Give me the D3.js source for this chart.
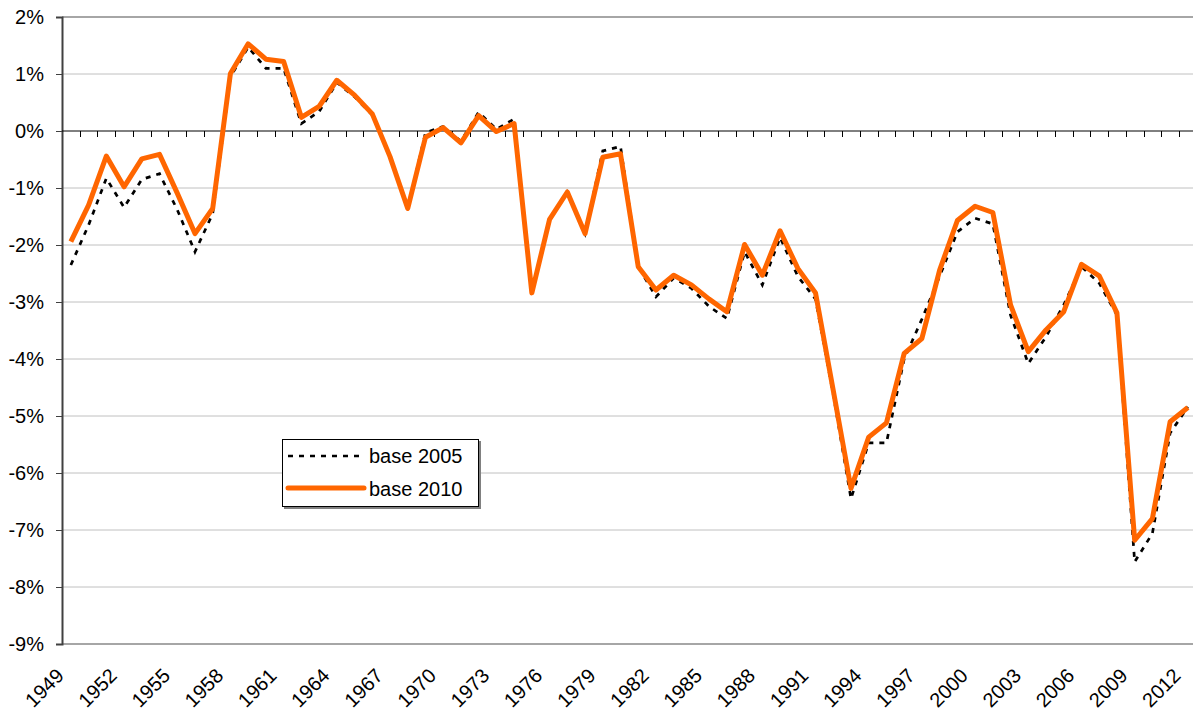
<!DOCTYPE html>
<html>
<head>
<meta charset="utf-8">
<script src="https://cdn.jsdelivr.net/npm/d3@7"></script>
<style>
  html, body { margin: 0; padding: 0; background: #fff; }
  svg { display: block; font-family: "Liberation Sans", Arial, sans-serif; }
</style>
</head>
<body>
<div id="chart"></div>
<script>
// Categories (years)
const years = [1949, 1950, 1951, 1952, 1953, 1954, 1955, 1956, 1957, 1958,
  1959, 1960, 1961, 1962, 1963, 1964, 1965, 1966, 1967, 1968,
  1969, 1970, 1971, 1972, 1973, 1974, 1975, 1976, 1977, 1978,
  1979, 1980, 1981, 1982, 1983, 1984, 1985, 1986, 1987, 1988,
  1989, 1990, 1991, 1992, 1993, 1994, 1995, 1996, 1997, 1998,
  1999, 2000, 2001, 2002, 2003, 2004, 2005, 2006, 2007, 2008,
  2009, 2010, 2011, 2012];

// base 2005 (dashed black), % values
const base2005 = [-2.35, -1.65, -0.83, -1.34, -0.85, -0.75, -1.38, -2.12, -1.45, 0.95,
  1.47, 1.10, 1.10, 0.13, 0.34, 0.85, 0.60, 0.28, -0.45, -1.36,
  -0.03, 0.08, -0.18, 0.33, 0.03, 0.21, -2.84, -1.55, -1.07, -1.80,
  -0.35, -0.27, -2.38, -2.91, -2.58, -2.76, -3.08, -3.29, -2.12, -2.70,
  -1.87, -2.55, -2.95, -4.62, -6.45, -5.47, -5.47, -4.00, -3.30, -2.55,
  -1.77, -1.53, -1.63, -3.23, -4.08, -3.61, -3.05, -2.38, -2.67, -3.23,
  -7.56, -7.06, -5.30, -4.84];

// base 2010 (solid orange), % values
const base2010 = [-1.94, -1.30, -0.44, -0.98, -0.49, -0.41, -1.09, -1.80, -1.36, 1.01,
  1.53, 1.26, 1.22, 0.24, 0.43, 0.89, 0.63, 0.30, -0.45, -1.36,
  -0.11, 0.06, -0.21, 0.27, -0.01, 0.13, -2.84, -1.55, -1.07, -1.80,
  -0.46, -0.40, -2.38, -2.79, -2.53, -2.70, -2.95, -3.17, -1.99, -2.53,
  -1.75, -2.41, -2.84, -4.55, -6.27, -5.37, -5.12, -3.90, -3.64, -2.44,
  -1.57, -1.32, -1.43, -3.05, -3.87, -3.49, -3.17, -2.34, -2.54, -3.19,
  -7.18, -6.80, -5.10, -4.85];

// Axis tick values
const yTicks = [2, 1, 0, -1, -2, -3, -4, -5, -6, -7, -8, -9];
const xLabelYears = [1949, 1952, 1955, 1958, 1961, 1964, 1967, 1970, 1973, 1976,
  1979, 1982, 1985, 1988, 1991, 1994, 1997, 2000, 2003, 2006, 2009, 2012];

const seriesNames = ['base 2005', 'base 2010'];

const W = 1193, H = 714;
const margin = { top: 17, left: 62 };
const bandW = 17.73;
const plotW = years.length * bandW;
const plotH = 627;

const svg = d3.select('#chart')
  .append('svg')
  .attr('width', W)
  .attr('height', H);

svg.append('rect').attr('width', W).attr('height', H).attr('fill', '#fff');

const g = svg.append('g')
  .attr('transform', `translate(${margin.left},${margin.top})`);

// Scales
const x = d3.scaleBand()
  .domain(years)
  .range([0, plotW])
  .padding(0);

const y = d3.scaleLinear()
  .domain([-9, 2])
  .range([plotH, 0]);

const cx = d => x(d) + x.bandwidth() / 2;

// Gridlines
g.append('g')
  .selectAll('line')
  .data(yTicks.filter(v => v !== 0 && v !== 2 && v !== -9))
  .join('line')
  .attr('x1', 0)
  .attr('x2', plotW)
  .attr('y1', d => y(d))
  .attr('y2', d => y(d))
  .attr('stroke', '#c0c0c0')
  .attr('stroke-width', 1);

// Top & bottom border
[2, -9].forEach(v => {
  g.append('line')
    .attr('x1', 0).attr('x2', plotW)
    .attr('y1', y(v)).attr('y2', y(v))
    .attr('stroke', '#a6a6a6')
    .attr('stroke-width', 2);
});

// Y axis
const yAxis = d3.axisLeft(y)
  .tickValues(yTicks)
  .tickSize(6)
  .tickPadding(12)
  .tickFormat(d => `${d}%`);

const yG = g.append('g').call(yAxis);
yG.select('.domain').attr('stroke', '#404040').attr('stroke-width', 2);
yG.selectAll('.tick line').attr('stroke', '#404040');
yG.selectAll('text')
  .attr('font-size', '20px')
  .attr('fill', '#000')
  .attr('font-family', '"Liberation Sans", Arial, sans-serif');

// Zero line with category ticks
g.append('line')
  .attr('x1', 0).attr('x2', plotW)
  .attr('y1', y(0)).attr('y2', y(0))
  .attr('stroke', '#000')
  .attr('stroke-width', 1);

g.append('g')
  .selectAll('line')
  .data(years.slice(1))
  .join('line')
  .attr('x1', d => Math.round(x(d)) + 0.5)
  .attr('x2', d => Math.round(x(d)) + 0.5)
  .attr('y1', y(0))
  .attr('y2', y(0) + 6)
  .attr('stroke', '#000')
  .attr('stroke-width', 1);

// X labels (rotated)
g.append('g')
  .selectAll('text')
  .data(xLabelYears)
  .join('text')
  .attr('transform', d => `translate(${x(d) + 3},${plotH + 33}) rotate(-45)`)
  .attr('text-anchor', 'end')
  .attr('font-size', '20px')
  .attr('fill', '#000')
  .text(d => d);

// Lines
const line = d3.line()
  .x((d, i) => cx(years[i]))
  .y(d => y(d));

g.append('path')
  .datum(base2005)
  .attr('fill', 'none')
  .attr('stroke', '#000')
  .attr('stroke-width', 2.7)
  .attr('stroke-dasharray', '5,6')
  .attr('d', line);

g.append('path')
  .datum(base2010)
  .attr('fill', 'none')
  .attr('stroke', '#ff6600')
  .attr('stroke-width', 5)
  .attr('stroke-linejoin', 'round')
  .attr('d', line);

// Legend
const legend = svg.append('g')
  .attr('transform', 'translate(282,439)');

legend.append('rect')
  .attr('x', 2).attr('y', 2)
  .attr('width', 197).attr('height', 68)
  .attr('fill', '#808080');

legend.append('rect')
  .attr('x', 0.5).attr('y', 0.5)
  .attr('width', 196).attr('height', 67)
  .attr('fill', '#fff')
  .attr('stroke', '#000')
  .attr('stroke-width', 1);

legend.append('line')
  .attr('x1', 6).attr('x2', 82)
  .attr('y1', 17).attr('y2', 17)
  .attr('stroke', '#000')
  .attr('stroke-width', 2.7)
  .attr('stroke-dasharray', '5,6');

legend.append('text')
  .attr('x', 87).attr('y', 24)
  .attr('font-size', '20px')
  .attr('fill', '#000')
  .text(seriesNames[0]);

legend.append('line')
  .attr('x1', 6).attr('x2', 82)
  .attr('y1', 49).attr('y2', 49)
  .attr('stroke', '#ff6600')
  .attr('stroke-width', 5)
  .attr('stroke-linecap', 'round');

legend.append('text')
  .attr('x', 87).attr('y', 57)
  .attr('font-size', '20px')
  .attr('fill', '#000')
  .text(seriesNames[1]);
</script>
</body>
</html>
